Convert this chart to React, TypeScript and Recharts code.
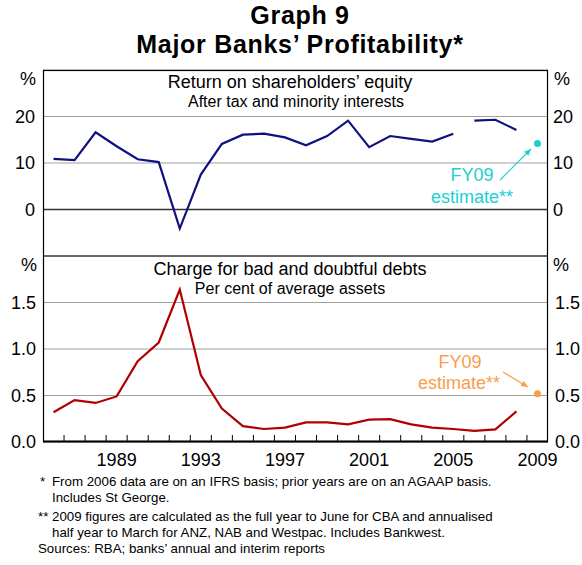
import React from 'react';
import { LineChart, Line, XAxis, YAxis, CartesianGrid, ReferenceLine, ReferenceDot } from 'recharts';

// financial years, one point per year
const YEARS = [
  1986, 1987, 1988, 1989, 1990, 1991, 1992, 1993, 1994, 1995, 1996, 1997,
  1998, 1999, 2000, 2001, 2002, 2003, 2004, 2005, 2006, 2007, 2008,
];
const LABEL_YEARS = [1989, 1993, 1997, 2001, 2005, 2009];

// return on equity, AGAAP basis up to 2005, IFRS from 2006
const ROE_AGAAP = [
  10.9, 10.6, 16.6, 13.6, 10.8, 10.2, -4.1, 7.5, 14.1, 16.1, 16.3, 15.5,
  13.8, 15.8, 19.1, 13.4, 15.8, 15.2, 14.6, 16.3, null, null, null,
];
const ROE_IFRS = [
  null, null, null, null, null, null, null, null, null, null, null, null,
  null, null, null, null, null, null, null, null, 19.1, 19.3, 17.1,
];
const BAD_DEBTS = [
  0.32, 0.45, 0.42, 0.49, 0.87, 1.07, 1.64, 0.72, 0.36, 0.17, 0.14, 0.155,
  0.21, 0.21, 0.19, 0.24, 0.245, 0.19, 0.155, 0.14, 0.12, 0.135, 0.33,
];

const ESTIMATE_YEAR = 2009;
const ROE_FY09 = 14.2;
const BAD_DEBTS_FY09 = 0.52;

const ROE_TICKS = [0, 10, 20];
const DEBT_TICKS = [0, 0.5, 1, 1.5];

const FONT = '"Liberation Sans", Arial, sans-serif';
const NAVY = '#10107f';
const RED = '#b00000';
const CYAN = '#20cfd0';
const ORANGE = '#f99d4a';

const X_DOMAIN = [YEARS[0] - 0.5, ESTIMATE_YEAR + 0.5];
// tick marks sit on the year boundaries, labels in the middle of the year
const BOUNDARIES = YEARS.map(y => y + 0.5);

const roeData = YEARS.map((year, i) => ({ year, agaap: ROE_AGAAP[i], ifrs: ROE_IFRS[i] }));
const debtData = YEARS.map((year, i) => ({ year, value: BAD_DEBTS[i] }));

const tickStyle = { fontSize: 18, fill: '#000', fontFamily: FONT };

const YearTick = (props: any) => {
  const { x, y, payload } = props;
  if (LABEL_YEARS.includes(payload.value)) {
    return (
      <text x={x} y={y + 24} textAnchor="middle" fontSize={18} fontFamily={FONT} fill="#000">
        {payload.value}
      </text>
    );
  }
  return <line x1={x} x2={x} y1={y - 7} y2={y} stroke="#000" strokeWidth={1} />;
};

const abs = (left: number, top: number, extra: any = {}) =>
  ({ position: 'absolute', left, top, whiteSpace: 'nowrap', ...extra } as React.CSSProperties);

const titleStyle = { width: 600, textAlign: 'center', fontWeight: 'bold', fontSize: 25, lineHeight: '25px', letterSpacing: 0.7 };

export default function App() {
  return (
    <div style={{ position: 'relative', width: 582, height: 565, fontFamily: FONT, color: '#000', background: '#fff', overflow: 'hidden' }}>
      <style>{'body{margin:0}'}</style>

      <div style={abs(0, 2.8, titleStyle)}>Graph 9</div>
      <div style={abs(0, 31.8, titleStyle)}>Major Banks’ Profitability*</div>

      {/* top panel */}
      <div style={abs(0, 0)}>
        <LineChart width={582} height={256} data={roeData} margin={{ top: 70, right: 0, left: 0, bottom: 0 }}>
          <XAxis dataKey="year" type="number" domain={X_DOMAIN} hide />
          <YAxis yAxisId="left" orientation="left" width={43} domain={[-10, 30]} ticks={ROE_TICKS}
            axisLine={false} tickLine={false} tickSize={0} tickMargin={8} tick={tickStyle} interval={0} />
          <YAxis yAxisId="right" orientation="right" width={34} domain={[-10, 30]} ticks={ROE_TICKS}
            axisLine={false} tickLine={false} tickSize={0} tickMargin={5} tick={tickStyle} interval={0} />
          <CartesianGrid yAxisId="left" vertical={false} stroke="#a0a0a0" />
          <ReferenceLine yAxisId="left" y={0} stroke="#333" strokeWidth={1.5} />
          {/* same series on the right axis, invisible, so that axis gets its ticks */}
          <Line yAxisId="right" dataKey="agaap" stroke="none" dot={false} activeDot={false} isAnimationActive={false} />
          <Line yAxisId="left" dataKey="agaap" stroke={NAVY} strokeWidth={2.2} dot={false} isAnimationActive={false} />
          <Line yAxisId="left" dataKey="ifrs" stroke={NAVY} strokeWidth={2.2} dot={false} isAnimationActive={false} />
          <ReferenceDot yAxisId="left" x={ESTIMATE_YEAR} y={ROE_FY09} r={3.5} fill={CYAN} stroke="none" />
        </LineChart>
      </div>

      {/* bottom panel */}
      <div style={abs(0, 256)}>
        <LineChart width={582} height={216} data={debtData} margin={{ top: 0, right: 0, left: 0, bottom: 0 }}>
          <XAxis dataKey="year" type="number" domain={X_DOMAIN} ticks={[...BOUNDARIES, ...LABEL_YEARS]}
            interval={0} tickSize={0} tickMargin={0} axisLine={false} tickLine={false} height={30} tick={<YearTick />} />
          <YAxis yAxisId="left" orientation="left" width={43} domain={[0, 2]} ticks={DEBT_TICKS}
            axisLine={false} tickLine={false} tickSize={0} tickMargin={7} tick={tickStyle} interval={0}
            tickFormatter={(v: number) => v.toFixed(1)} />
          <YAxis yAxisId="right" orientation="right" width={34} domain={[0, 2]} ticks={DEBT_TICKS}
            axisLine={false} tickLine={false} tickSize={0} tickMargin={7} tick={tickStyle} interval={0}
            tickFormatter={(v: number) => v.toFixed(1)} />
          <CartesianGrid yAxisId="left" vertical={false} stroke="#a0a0a0" />
          <Line yAxisId="right" dataKey="value" stroke="none" dot={false} activeDot={false} isAnimationActive={false} />
          <Line yAxisId="left" dataKey="value" stroke={RED} strokeWidth={2.2} dot={false} isAnimationActive={false} />
          <ReferenceDot yAxisId="left" x={ESTIMATE_YEAR} y={BAD_DEBTS_FY09} r={3.5} fill={ORANGE} stroke="none" />
        </LineChart>
      </div>

      {/* frame, panel divider and annotations */}
      <svg width={582} height={565} style={abs(0, 0, { pointerEvents: 'none' })}>
        <defs>
          <marker id="arrC" markerWidth="8" markerHeight="8" refX="7" refY="4" orient="auto" markerUnits="userSpaceOnUse">
            <path d="M0,1 L7,4 L0,7 z" fill={CYAN} />
          </marker>
          <marker id="arrO" markerWidth="8" markerHeight="8" refX="7" refY="4" orient="auto" markerUnits="userSpaceOnUse">
            <path d="M0,1 L7,4 L0,7 z" fill={ORANGE} />
          </marker>
        </defs>
        <rect x={43.5} y={70.5} width={504} height={371} fill="none" stroke="#000" strokeWidth={1.2} />
        <line x1={43} x2={548} y1={256} y2={256} stroke="#000" strokeWidth={1.2} />
        <line x1={43} x2={548} y1={441.5} y2={441.5} stroke="#000" strokeWidth={2} />

        <g fontFamily={FONT} fill="#000" textAnchor="middle">
          <text x={290} y={88} fontSize={18}>Return on shareholders’ equity</text>
          <text x={296} y={107} fontSize={16}>After tax and minority interests</text>
          <text x={290} y={275} fontSize={18}>Charge for bad and doubtful debts</text>
          <text x={290} y={294} fontSize={16}>Per cent of average assets</text>
        </g>
        <g fontFamily={FONT} fontSize={18}>
          <text x={20} y={85}>%</text>
          <text x={554} y={85}>%</text>
          <text x={21} y={271}>%</text>
          <text x={553} y={271}>%</text>
        </g>

        <g fontFamily={FONT} fontSize={18} fill={CYAN} textAnchor="middle">
          <text x={472} y={181}>FY09</text>
          <text x={472} y={203}>estimate**</text>
        </g>
        <line x1={500} y1={180} x2={531} y2={149} stroke={CYAN} strokeWidth={1.2} markerEnd="url(#arrC)" />

        <g fontFamily={FONT} fontSize={18} fill={ORANGE} textAnchor="middle">
          <text x={460} y={368}>FY09</text>
          <text x={459} y={389}>estimate**</text>
        </g>
        <line x1={503} y1={372} x2={528} y2={387} stroke={ORANGE} strokeWidth={1.2} markerEnd="url(#arrO)" />
      </svg>

      {/* footnotes */}
      <div style={{ fontSize: 13.3, lineHeight: '16px' }}>
        <div style={abs(40, 474)}>*</div>
        <div style={abs(52, 474)}>From 2006 data are on an IFRS basis; prior years are on an AGAAP basis.</div>
        <div style={abs(52, 490)}>Includes St George.</div>
        <div style={abs(38, 509)}>**</div>
        <div style={abs(52, 509)}>2009 figures are calculated as the full year to June for CBA and annualised</div>
        <div style={abs(52, 525)}>half year to March for ANZ, NAB and Westpac. Includes Bankwest.</div>
        <div style={abs(38, 541)}>Sources: RBA; banks’ annual and interim reports</div>
      </div>
    </div>
  );
}
